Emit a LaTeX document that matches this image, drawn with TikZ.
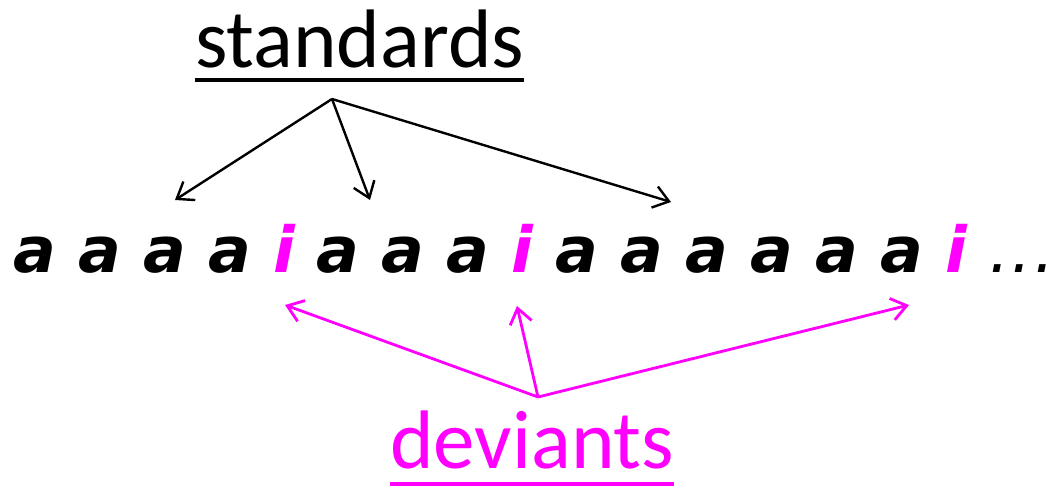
\documentclass[tikz,border=0pt]{standalone}
\usepackage{fontspec}
\setmainfont{Carlito}
\newfontfamily\dejavu{DejaVu Sans}
\usetikzlibrary{arrows.meta}
\definecolor{dev}{HTML}{FF00FF}
\tikzset{
  head/.style={inner sep=0pt, anchor=base west, text depth=0pt, font=\fontsize{83}{90}\selectfont},
  row/.style={inner sep=0pt, anchor=base west},
  stdarrow/.style={line width=2.4pt, black, -{Straight Barb[length=15pt,width=22pt,line width=2.4pt]}},
  devarrow/.style={line width=2.8pt, dev, -{Straight Barb[length=15pt,width=22pt,line width=2.8pt]}},
}
\begin{document}
\begin{tikzpicture}[x=1pt,y=-1pt]
\useasboundingbox (0,0) rectangle (1053,487);
\node[head] (std) at (195,67) {standards};
\draw[line width=4pt] ([yshift=-13pt]std.base west) -- ([yshift=-13pt]std.base east);
\node[head, text=dev] (dvt) at (390,468) {deviants};
\draw[line width=4.5pt, dev] ([yshift=-16pt]dvt.base west) -- ([yshift=-16pt]dvt.base east);
\node[row] (seq) at (13,272) {\dejavu\fontsize{63.5}{70}\selectfont\bfseries\itshape
a a a a \textcolor{dev}{i} a a a \textcolor{dev}{i} a a a a a a \textcolor{dev}{i} {\mdseries .\kern2.5pt.\kern2.5pt.}};
\coordinate (so) at (332,99);
\coordinate (s1) at (175,200);
\coordinate (s2) at (370,200);
\coordinate (s3) at (671,202);
\coordinate (do) at (538,397);
\coordinate (d1) at (285,305);
\coordinate (d2) at (517,306);
\coordinate (d3) at (909,305);
\draw[stdarrow] (so) -- (s1);
\draw[stdarrow] (so) -- (s2);
\draw[stdarrow] (so) -- (s3);
\draw[devarrow] (do) -- (d1);
\draw[devarrow] (do) -- (d2);
\draw[devarrow] (do) -- (d3);
\end{tikzpicture}
\end{document}
